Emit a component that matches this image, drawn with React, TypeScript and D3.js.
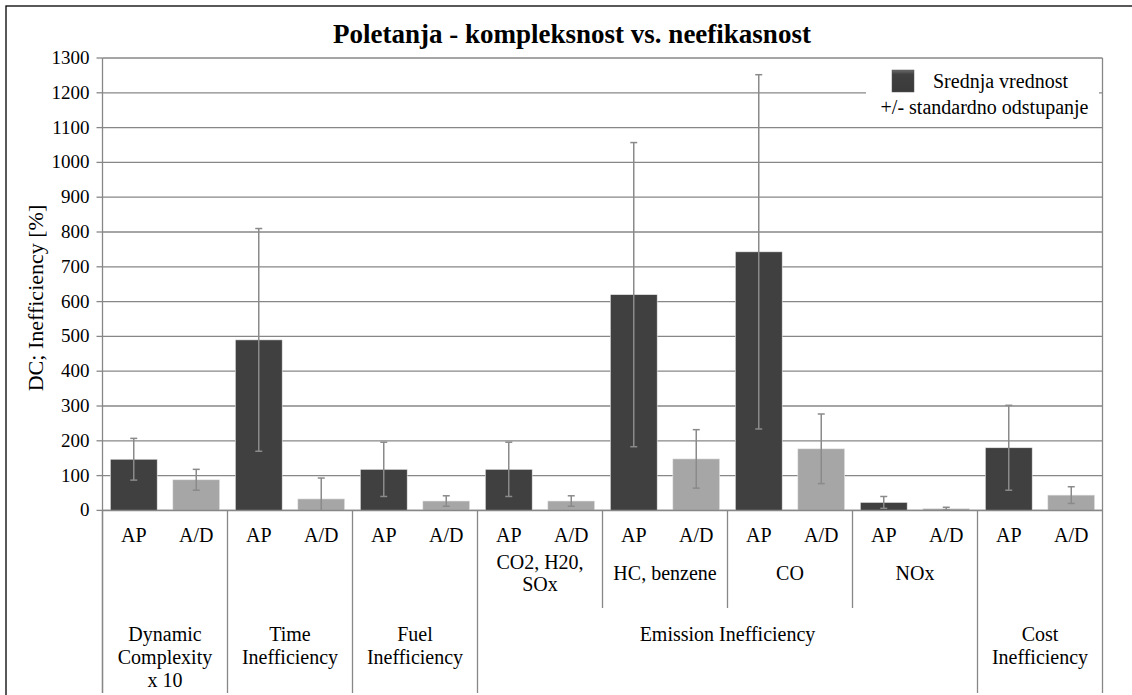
import React from "react";
import * as d3 from "d3";

const title = "Poletanja - kompleksnost vs. neefikasnost";
const yLabel = "DC; Inefficiency [%]";
const series = ["AP", "A/D"];
const groupIds = ["dc", "time", "fuel", "co2", "hc", "co", "nox", "cost"];
const subLabels: string[][] = [[], [], [], ["CO2, H20,", "SOx"], ["HC, benzene"], ["CO"], ["NOx"], []];
const topLabels: { lines: string[]; from: number; to: number }[] = [
  { lines: ["Dynamic", "Complexity", "x 10"], from: 0, to: 1 },
  { lines: ["Time", "Inefficiency"], from: 1, to: 2 },
  { lines: ["Fuel", "Inefficiency"], from: 2, to: 3 },
  { lines: ["Emission Inefficiency"], from: 3, to: 7 },
  { lines: ["Cost", "Inefficiency"], from: 7, to: 8 },
];
const apMeans = [147, 490, 118, 118, 620, 743, 23, 180];
const apSD = [60, 320, 78, 78, 437, 509, 17, 122];
const adMeans = [88, 33, 27, 27, 148, 177, 5, 44];
const adSD = [30, 60, 15, 15, 84, 100, 4, 24];
const yTicks = d3.range(0, 1301, 100);
const legendLines = ["Srednja vrednost", "+/- standardno odstupanje"];

const FONT = "Liberation Serif";
const W = 1132, H = 695;
const L = 102.5, R = 1102.5, T = 58, B = 510.4;
const BOTTOM = 693;
const SUB_BOTTOM = 608;
const DARK = "#404040", LIGHT = "#a6a6a6", GRID = "#878787", ERR = "#8a8a8a";

export default function App() {
  const x0 = d3.scaleBand<string>().domain(groupIds).range([L, R]).padding(0);
  const x1 = d3.scaleBand<string>().domain(series).range([0, x0.bandwidth()]).paddingInner(0.25).paddingOuter(0.125);
  const y = d3.scaleLinear().domain([0, 1300]).range([B, T]);

  const bars: { key: string; x: number; w: number; mean: number; sd: number; color: string }[] = [];
  groupIds.forEach((g, i) => {
    [
      { s: "AP", m: apMeans[i], sd: apSD[i], c: DARK },
      { s: "A/D", m: adMeans[i], sd: adSD[i], c: LIGHT },
    ].forEach((b) => {
      bars.push({ key: g + b.s, x: (x0(g) as number) + (x1(b.s) as number), w: x1.bandwidth(), mean: b.m, sd: b.sd, color: b.c });
    });
  });

  const topBoundaries = new Set<number>();
  topLabels.forEach((t) => { topBoundaries.add(t.from); topBoundaries.add(t.to); });
  const dividers: { x: number; y2: number }[] = [];
  for (let k = 0; k <= groupIds.length; k++) {
    const xx = k < groupIds.length ? (x0(groupIds[k]) as number) : R;
    dividers.push({ x: xx, y2: topBoundaries.has(k) ? BOTTOM : SUB_BOTTOM });
  }

  const clampY = (v: number) => y(Math.max(0, Math.min(1300, v)));
  const txt = { fontFamily: FONT };

  return (
    <svg width={W} height={H} style={{ display: "block", position: "absolute", left: 0, top: 0 }}>
      <rect x={0} y={0} width={W} height={H} fill="#fff" />
      <rect x={6} y={6} width={1132} height={700} fill="none" stroke="#000" strokeWidth={1.3} />
      <text x={572} y={43} textAnchor="middle" fontSize={27} fontWeight="bold" fill="#000" style={txt}>{title}</text>

      {yTicks.map((t) => (
        <line key={"g" + t} x1={L} x2={R} y1={y(t)} y2={y(t)} stroke={GRID} strokeWidth={1.3} />
      ))}
      {yTicks.map((t) => (
        <g key={"t" + t}>
          <line x1={L - 6} x2={L} y1={y(t)} y2={y(t)} stroke={GRID} strokeWidth={1.3} />
          <text x={L - 13} y={y(t) + 6} textAnchor="end" fontSize={19} fill="#000" style={txt}>{t}</text>
        </g>
      ))}

      <rect x={866} y={63} width={233} height={58} fill="#fff" />

      {bars.map((b) => (
        <rect key={b.key} x={b.x} y={y(b.mean)} width={b.w} height={B - y(b.mean)} fill={b.color} stroke="#e8e8e8" strokeWidth={0.6} />
      ))}
      {bars.map((b) => {
        const cx = b.x + b.w / 2;
        const hi = b.mean + b.sd, lo = b.mean - b.sd;
        return (
          <g key={"e" + b.key} stroke={ERR} strokeWidth={1.5}>
            <line x1={cx} x2={cx} y1={clampY(hi)} y2={clampY(lo)} />
            <line x1={cx - 3.5} x2={cx + 3.5} y1={clampY(hi)} y2={clampY(hi)} />
            {lo >= 0 && <line x1={cx - 3.5} x2={cx + 3.5} y1={clampY(lo)} y2={clampY(lo)} />}
          </g>
        );
      })}

      <line x1={L} x2={L} y1={T} y2={BOTTOM} stroke={GRID} strokeWidth={1.3} />
      <line x1={L} x2={R} y1={B} y2={B} stroke={GRID} strokeWidth={1.5} />
      {dividers.map((d, i) => (
        <line key={"d" + i} x1={d.x} x2={d.x} y1={i === groupIds.length ? T : B} y2={d.y2} stroke={GRID} strokeWidth={1.3} />
      ))}

      {bars.map((b, i) => (
        <text key={"l" + b.key} x={b.x + b.w / 2} y={541.5} textAnchor="middle" fontSize={20} fill="#000" style={txt}>{series[i % 2]}</text>
      ))}
      {groupIds.map((g, i) => {
        const lines = subLabels[i];
        const cx = (x0(g) as number) + x0.bandwidth() / 2;
        const lh = 22.5;
        const base = 580 - ((lines.length - 1) * lh) / 2;
        return lines.map((ln, j) => (
          <text key={g + "s" + j} x={cx} y={base + j * lh} textAnchor="middle" fontSize={20} fill="#000" style={txt}>{ln}</text>
        ));
      })}
      {topLabels.map((t, i) => {
        const x1p = x0(groupIds[t.from]) as number;
        const x2p = t.to < groupIds.length ? (x0(groupIds[t.to]) as number) : R;
        const cx = (x1p + x2p) / 2;
        return t.lines.map((ln, j) => (
          <text key={"t3" + i + j} x={cx} y={641 + j * 22.8} textAnchor="middle" fontSize={20} fill="#000" style={txt}>{ln}</text>
        ));
      })}

      <text transform={`translate(43, 298) rotate(-90)`} textAnchor="middle" fontSize={22} fill="#000" style={txt}>{yLabel}</text>

      <defs>
        <linearGradient id="lg" x1="0" y1="0" x2="0" y2="1">
          <stop offset="0" stopColor="#6a6a6a" />
          <stop offset="0.2" stopColor="#404040" />
          <stop offset="1" stopColor="#3a3a3a" />
        </linearGradient>
      </defs>
      <rect x={892} y={70} width={22} height={22} fill="url(#lg)" stroke="#555" strokeWidth={0.5} />
      <text x={933} y={88} fontSize={20} fill="#000" style={txt}>{legendLines[0]}</text>
      <text x={984.5} y={114} textAnchor="middle" fontSize={20} fill="#000" style={txt}>{legendLines[1]}</text>
    </svg>
  );
}
